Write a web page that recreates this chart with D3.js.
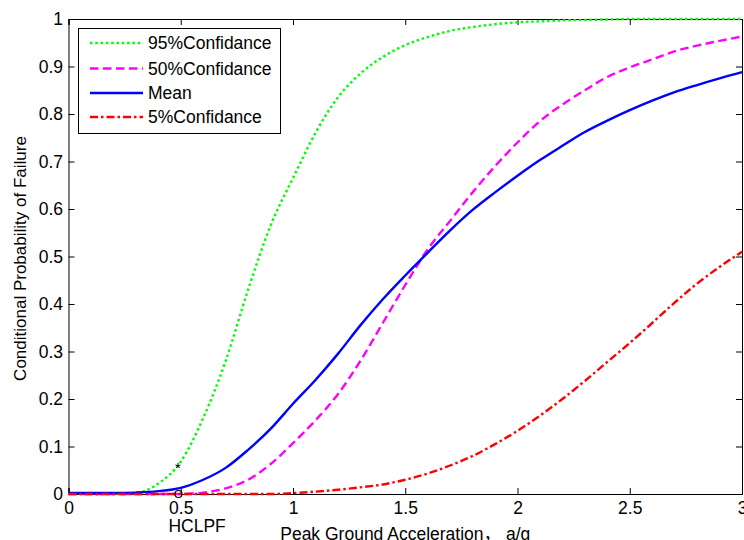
<!DOCTYPE html>
<html>
<head>
<meta charset="utf-8">
<script src="https://cdn.jsdelivr.net/npm/d3@7/dist/d3.min.js"></script>
<style>
  body { margin: 0; background: #fff; }
  svg { display: block; font-family: "Liberation Sans", Arial, sans-serif; }
</style>
</head>
<body>
<div id="chart"></div>
<script>
// Peak ground acceleration (a/g), sample points
const accel = [0, 0.1, 0.2, 0.3, 0.4, 0.5, 0.6, 0.7, 0.8, 0.9, 1.0, 1.1, 1.2, 1.3, 1.4, 1.5,
  1.6, 1.7, 1.8, 1.9, 2.0, 2.1, 2.2, 2.3, 2.4, 2.5, 2.6, 2.7, 2.8, 2.9, 3.0]

const conf95 = [0, 0, 0, 0.002, 0.022, 0.068, 0.16, 0.28, 0.43, 0.565, 0.665, 0.76, 0.835, 0.885, 0.92, 0.945,
  0.962, 0.975, 0.983, 0.989, 0.993, 0.995, 0.997, 0.998, 0.999, 1, 1, 1, 1, 1, 1]
const conf50 = [0, 0, 0, 0, 0, 0, 0.003, 0.012, 0.03, 0.063, 0.107, 0.155, 0.21, 0.28, 0.36, 0.44,
  0.515, 0.575, 0.635, 0.69, 0.74, 0.785, 0.82, 0.85, 0.878, 0.898, 0.915, 0.932, 0.944, 0.954, 0.963]
const meanCurve = [0.002, 0.002, 0.002, 0.003, 0.006, 0.013, 0.03, 0.055, 0.093, 0.137, 0.19, 0.24, 0.295, 0.355, 0.41, 0.46,
  0.508, 0.555, 0.598, 0.635, 0.67, 0.703, 0.733, 0.762, 0.786, 0.808, 0.828, 0.846, 0.861, 0.875, 0.888]
const conf5 = [0, 0, 0, 0, 0, 0, 0, 0, 0, 0, 0.002, 0.005, 0.009, 0.014, 0.02, 0.03,
  0.043, 0.06, 0.08, 0.105, 0.133, 0.165, 0.2, 0.238, 0.278, 0.318, 0.36, 0.403, 0.443, 0.478, 0.51]

const seriesNames = ["95%Confidance", "50%Confidance", "Mean", "5%Confidance"]

const xTicks = [0, 0.5, 1, 1.5, 2, 2.5, 3]
const yTicks = [0, 0.1, 0.2, 0.3, 0.4, 0.5, 0.6, 0.7, 0.8, 0.9, 1]

// HCLPF markers
const starPoint = [0.487, 0.059]
const circlePoint = [0.49, 0]

const W = 744, H = 540
const plotLeft = 68.5, plotRight = 742, plotTop = 19, plotBottom = 494
const FONT = "17.5px"

const svg = d3.select("#chart").append("svg")
  .attr("width", W)
  .attr("height", H)

const x = d3.scaleLinear().domain([0, 3]).range([plotLeft, plotRight])
const y = d3.scaleLinear().domain([0, 1]).range([plotBottom, plotTop])

const styles = [
  { color: "#00ff00", dash: "2.5,2.8" },
  { color: "#ff00ff", dash: "8.5,4.5" },
  { color: "#0000ff", dash: null },
  { color: "#ff0000", dash: "8,3,2.5,3" }
]

// axes box
const tickLen = 6
svg.append("g")
  .attr("transform", `translate(0,${plotBottom})`)
  .call(d3.axisBottom(x).tickValues(xTicks).tickFormat(d3.format("")).tickSize(-tickLen).tickPadding(8))
svg.append("g")
  .attr("transform", `translate(0,${plotTop})`)
  .call(d3.axisTop(x).tickValues(xTicks).tickFormat("").tickSize(-tickLen))
svg.append("g")
  .attr("transform", `translate(${plotLeft},0)`)
  .call(d3.axisLeft(y).tickValues(yTicks).tickFormat(d3.format("")).tickSize(-tickLen).tickPadding(5.5))
svg.append("g")
  .attr("transform", `translate(${plotRight},0)`)
  .call(d3.axisRight(y).tickValues(yTicks).tickFormat("").tickSize(-tickLen))

svg.selectAll(".domain").attr("stroke", "#000").attr("stroke-width", 1)
svg.selectAll(".tick line").attr("stroke", "#000")
svg.selectAll(".tick text")
  .attr("font-size", FONT)
  .attr("font-family", "Liberation Sans, Arial, sans-serif")
  .attr("fill", "#000")

// curves
const line = d3.line()
  .x(d => x(d[0]))
  .y(d => y(d[1]))
  .curve(d3.curveMonotoneX)

const allSeries = [conf95, conf50, meanCurve, conf5]
allSeries.forEach((vals, i) => {
  const pts = accel.map((a, j) => [a, vals[j]])
  svg.append("path")
    .datum(pts)
    .attr("d", line)
    .attr("fill", "none")
    .attr("stroke", styles[i].color)
    .attr("stroke-width", 2.4)
    .attr("stroke-dasharray", styles[i].dash)
})

// HCLPF markers
svg.append("text")
  .attr("x", x(starPoint[0]))
  .attr("y", y(starPoint[1]) + 7)
  .attr("text-anchor", "middle")
  .attr("font-size", "15px")
  .attr("fill", "#000")
  .text("*")

svg.append("circle")
  .attr("cx", x(circlePoint[0]))
  .attr("cy", y(circlePoint[1]))
  .attr("r", 3.5)
  .attr("fill", "none")
  .attr("stroke", "#000")
  .attr("stroke-width", 1.2)

svg.append("text")
  .attr("x", x(0.445))
  .attr("y", 531.5)
  .attr("font-size", FONT)
  .attr("fill", "#000")
  .text("HCLPF")

// axis labels
svg.append("text")
  .attr("x", (plotLeft + plotRight) / 2)
  .attr("y", 540)
  .attr("text-anchor", "middle")
  .attr("font-size", FONT)
  .attr("fill", "#000")
  .attr("font-family", "Liberation Sans, 'Noto Sans CJK SC', Arial, sans-serif")
  .text("Peak Ground Acceleration，  a/g")

svg.append("text")
  .attr("transform", `translate(25.5,${(plotTop + plotBottom) / 2 + 2}) rotate(-90)`)
  .attr("text-anchor", "middle")
  .attr("font-size", "17px")
  .attr("fill", "#000")
  .text("Conditional Probability of Failure")

// legend
const lg = svg.append("g")
lg.append("rect")
  .attr("x", 78.5)
  .attr("y", 28.5)
  .attr("width", 202)
  .attr("height", 105)
  .attr("fill", "#fff")
  .attr("stroke", "#000")
  .attr("stroke-width", 1)

const rowY = [43, 68.5, 93, 117]
seriesNames.forEach((name, i) => {
  lg.append("line")
    .attr("x1", 90).attr("x2", 143)
    .attr("y1", rowY[i]).attr("y2", rowY[i])
    .attr("stroke", styles[i].color)
    .attr("stroke-width", 2.4)
    .attr("stroke-dasharray", styles[i].dash)
  lg.append("text")
    .attr("x", 148)
    .attr("y", rowY[i] + 6)
    .attr("font-size", FONT)
    .attr("fill", "#000")
    .text(name)
})
</script>
</body>
</html>
